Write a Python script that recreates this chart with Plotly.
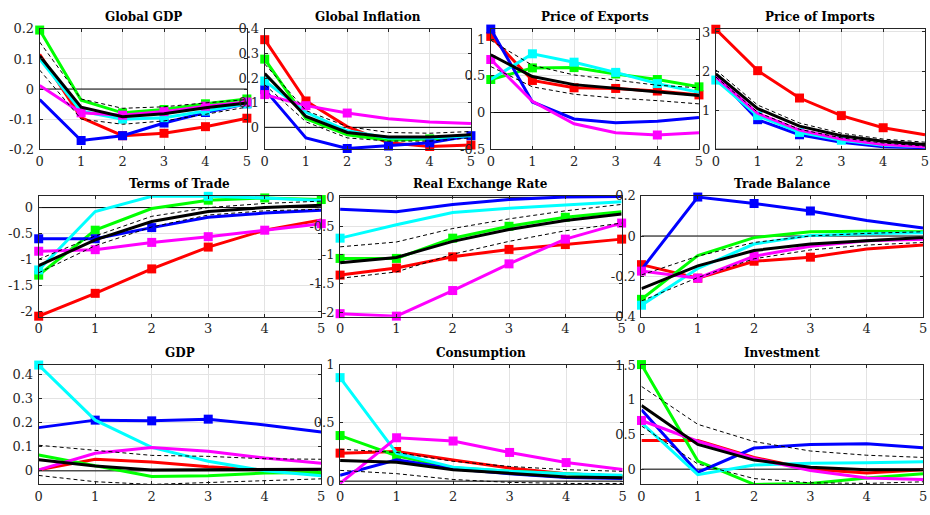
import plotly.graph_objects as go

# Horizon (quarters after the shock)
steps = [0, 1, 2, 3, 4, 5]

# Panel titles
titles = ["Global GDP", "Global Inflation", "Price of Exports", "Price of Imports",
          "Terms of Trade", "Real Exchange Rate", "Trade Balance",
          "GDP", "Consumption", "Investment"]

# Impulse responses: five country responses, the median and its bands
global_gdp = {
    "red":     [0.115, -0.095, -0.155, -0.147, -0.125, -0.097],
    "green":   [0.196, -0.037, -0.079, -0.068, -0.049, -0.033],
    "blue":    [-0.035, -0.171, -0.155, -0.113, -0.078, -0.049],
    "cyan":    [0.100, -0.073, -0.100, -0.095, -0.073, -0.049],
    "magenta": [0.012, -0.079, -0.087, -0.075, -0.057, -0.043],
    "median":  [0.110, -0.060, -0.092, -0.082, -0.062, -0.046],
    "upper":   [0.156, -0.033, -0.064, -0.059, -0.046, -0.035],
    "lower":   [0.063, -0.100, -0.117, -0.106, -0.084, -0.060],
}
global_inflation = {
    "red":     [0.356, 0.107, 0.003, -0.063, -0.078, -0.072],
    "green":   [0.277, 0.035, -0.030, -0.052, -0.047, -0.037],
    "blue":    [0.153, -0.043, -0.086, -0.076, -0.063, -0.034],
    "cyan":    [0.188, 0.061, -0.014, -0.043, -0.043, -0.034],
    "magenta": [0.133, 0.088, 0.058, 0.035, 0.022, 0.016],
    "median":  [0.218, 0.044, -0.021, -0.039, -0.039, -0.030],
    "upper":   [0.257, 0.068, 0.003, -0.021, -0.024, -0.017],
    "lower":   [0.173, 0.022, -0.043, -0.056, -0.056, -0.043],
}
price_exports = {
    "red":     [1.037, 0.437, 0.337, 0.328, 0.293, 0.240],
    "green":   [0.450, 0.608, 0.612, 0.525, 0.450, 0.350],
    "blue":    [1.137, 0.144, -0.087, -0.140, -0.118, -0.066],
    "cyan":    [0.450, 0.800, 0.686, 0.547, 0.394, 0.276],
    "magenta": [0.722, 0.153, -0.153, -0.276, -0.306, -0.276],
    "median":  [0.787, 0.490, 0.380, 0.328, 0.284, 0.232],
    "upper":   [0.984, 0.643, 0.512, 0.437, 0.372, 0.337],
    "lower":   [0.626, 0.350, 0.249, 0.197, 0.162, 0.118],
}
price_imports = {
    "red":     [3.07, 2.01, 1.31, 0.86, 0.55, 0.37],
    "green":   [1.82, 0.90, 0.48, 0.25, 0.12, 0.08],
    "blue":    [1.89, 0.756, 0.37, 0.18, 0.066, 0.04],
    "cyan":    [1.77, 0.86, 0.43, 0.23, 0.10, 0.066],
    "magenta": [1.85, 0.92, 0.49, 0.26, 0.12, 0.066],
    "median":  [1.93, 1.04, 0.59, 0.345, 0.205, 0.123],
    "upper":   [2.03, 1.13, 0.67, 0.41, 0.26, 0.18],
    "lower":   [1.85, 0.945, 0.51, 0.29, 0.16, 0.08],
}
terms_of_trade = {
    "red":     [-2.09, -1.65, -1.18, -0.76, -0.435, -0.236],
    "green":   [-1.30, -0.435, -0.019, 0.143, 0.186, 0.155],
    "blue":    [-0.60, -0.60, -0.385, -0.186, -0.106, -0.05],
    "cyan":    [-1.20, -0.075, 0.217, 0.217, 0.186, 0.137],
    "magenta": [-0.84, -0.81, -0.67, -0.56, -0.435, -0.31],
    "median":  [-1.118, -0.62, -0.267, -0.075, 0.0, 0.043],
    "upper":   [-0.994, -0.547, -0.168, 0.0, 0.08, 0.124],
    "lower":   [-1.255, -0.733, -0.373, -0.143, -0.062, -0.031],
}
real_exchange_rate = {
    "red":     [-1.355, -1.232, -1.036, -0.907, -0.823, -0.728],
    "green":   [-1.064, -1.064, -0.711, -0.504, -0.347, -0.252],
    "blue":    [-0.207, -0.252, -0.123, -0.039, 0.006, 0.017],
    "cyan":    [-0.711, -0.476, -0.263, -0.190, -0.134, -0.078],
    "magenta": [-2.027, -2.070, -1.624, -1.159, -0.728, -0.448],
    "median":  [-1.140, -1.047, -0.767, -0.560, -0.403, -0.291],
    "upper":   [-0.862, -0.778, -0.543, -0.375, -0.235, -0.123],
    "lower":   [-1.411, -1.300, -0.991, -0.767, -0.582, -0.448],
}
trade_balance = {
    "red":     [-0.142, -0.209, -0.125, -0.105, -0.064, -0.045],
    "green":   [-0.314, -0.097, -0.008, 0.021, 0.024, 0.021],
    "blue":    [-0.166, 0.193, 0.161, 0.124, 0.077, 0.040],
    "cyan":    [-0.343, -0.161, -0.040, 0.003, 0.011, 0.016],
    "magenta": [-0.174, -0.209, -0.100, -0.051, -0.024, -0.016],
    "median":  [-0.261, -0.148, -0.072, -0.040, -0.024, -0.008],
    "upper":   [-0.193, -0.100, -0.032, 0.000, 0.013, 0.021],
    "lower":   [-0.322, -0.206, -0.113, -0.069, -0.045, -0.032],
}
gdp = {
    "red":     [0.004, 0.048, 0.037, 0.017, 0.004, -0.012],
    "green":   [0.066, 0.021, -0.023, -0.020, -0.009, -0.007],
    "blue":    [0.179, 0.210, 0.207, 0.214, 0.190, 0.161],
    "cyan":    [0.438, 0.210, 0.097, 0.040, 0.000, -0.020],
    "magenta": [0.004, 0.073, 0.097, 0.081, 0.053, 0.031],
    "median":  [0.046, 0.020, 0.004, 0.004, 0.004, 0.007],
    "upper":   [0.106, 0.084, 0.064, 0.060, 0.050, 0.048],
    "lower":   [-0.019, -0.045, -0.056, -0.049, -0.042, -0.033],
}
consumption = {
    "red":     [0.240, 0.254, 0.182, 0.112, 0.064, 0.042],
    "green":   [0.391, 0.218, 0.115, 0.084, 0.064, 0.042],
    "blue":    [0.050, 0.182, 0.106, 0.064, 0.031, 0.022],
    "cyan":    [0.888, 0.240, 0.120, 0.084, 0.064, 0.050],
    "magenta": [-0.020, 0.372, 0.344, 0.246, 0.159, 0.100],
    "median":  [0.176, 0.162, 0.098, 0.064, 0.036, 0.028],
    "upper":   [0.274, 0.246, 0.170, 0.126, 0.098, 0.084],
    "lower":   [0.092, 0.064, 0.014, -0.011, -0.020, -0.020],
}
investment = {
    "red":     [0.412, 0.412, 0.169, 0.000, -0.056, -0.009],
    "green":   [1.510, 0.117, -0.220, -0.206, -0.127, -0.066],
    "blue":    [0.858, -0.047, 0.305, 0.356, 0.366, 0.309],
    "cyan":    [0.670, -0.080, 0.061, 0.084, 0.094, 0.108],
    "magenta": [0.703, 0.403, 0.155, -0.019, -0.127, -0.150],
    "median":  [0.919, 0.356, 0.131, 0.028, -0.009, -0.009],
    "upper":   [1.195, 0.647, 0.398, 0.262, 0.201, 0.169],
    "lower":   [0.623, 0.075, -0.136, -0.197, -0.206, -0.183],
}

# Horizons flagged as significant for each country response
global_gdp_flags = {"red": [2, 3, 4, 5], "green": [0, 2, 3, 4, 5], "blue": [1, 2, 3, 4, 5],
                    "cyan": [2, 3, 4, 5], "magenta": [1, 2, 3, 4, 5]}
global_inflation_flags = {"red": [0, 1, 4, 5], "green": [0, 4], "blue": [0, 2, 3, 4, 5],
                          "cyan": [0], "magenta": [0, 1, 2]}
price_exports_flags = {"red": [0, 1, 2, 3, 4, 5], "green": [0, 1, 2, 3, 4, 5], "blue": [0],
                       "cyan": [1, 2, 3, 4], "magenta": [0, 4]}
price_imports_flags = {"red": [0, 1, 2, 3, 4], "green": [], "blue": [1, 2],
                       "cyan": [0, 1, 2, 3], "magenta": []}
terms_of_trade_flags = {"red": [0, 1, 2, 3], "green": [0, 1, 3, 4, 5], "blue": [0, 1, 2],
                        "cyan": [0, 3], "magenta": [0, 1, 2, 3, 4, 5]}
real_exchange_rate_flags = {"red": [0, 1, 2, 3, 4, 5], "green": [0, 1, 2, 3, 4], "blue": [],
                            "cyan": [0], "magenta": [0, 1, 2, 3, 4, 5]}
trade_balance_flags = {"red": [0, 1, 2, 3], "green": [0], "blue": [1, 2, 3],
                       "cyan": [0], "magenta": [0, 1, 2]}
gdp_flags = {"red": [], "green": [], "blue": [1, 2, 3], "cyan": [0], "magenta": []}
consumption_flags = {"red": [0, 1], "green": [0, 1], "blue": [], "cyan": [0],
                     "magenta": [1, 2, 3, 4]}
investment_flags = {"red": [], "green": [0], "blue": [], "cyan": [], "magenta": [0]}

panels = [global_gdp, global_inflation, price_exports, price_imports,
          terms_of_trade, real_exchange_rate, trade_balance,
          gdp, consumption, investment]
flags = [global_gdp_flags, global_inflation_flags, price_exports_flags, price_imports_flags,
         terms_of_trade_flags, real_exchange_rate_flags, trade_balance_flags,
         gdp_flags, consumption_flags, investment_flags]

# Y-axis tick values and limits per panel
y_ticks = [
    [-0.2, -0.1, 0, 0.1, 0.2],
    [0, 0.1, 0.2, 0.3, 0.4],
    [-0.5, 0, 0.5, 1],
    [0, 1, 2, 3],
    [-2, -1.5, -1, -0.5, 0],
    [-2, -1.5, -1, -0.5, 0],
    [-0.4, -0.2, 0, 0.2],
    [0, 0.1, 0.2, 0.3, 0.4],
    [0, 0.5, 1],
    [0, 0.5, 1, 1.5],
]
y_limits = [
    [-0.2, 0.2], [-0.089, 0.4], [-0.5, 1.14], [0, 3.08],
    [-2.1, 0.23], [-2.08, 0.03], [-0.4, 0.2],
    [-0.056, 0.44], [-0.028, 1.0], [-0.22, 1.51],
]

# Axes placement in pixels of the 930x515 canvas: (left, right, top, bottom)
W, H = 930, 515
boxes = [
    (36, 245, 22.5, 146.5), (263, 471, 22.5, 146.5), (491, 701, 22.5, 146.5), (718, 929, 22.5, 146.5),
    (35, 320, 194.3, 319), (339, 623, 194.3, 319), (643, 927, 194.3, 319),
    (35, 320, 368.3, 491.7), (339, 624, 368.3, 491.7), (643, 927, 368.3, 491.7),
]

colors = {"red": "#ff0000", "green": "#00ff00", "blue": "#0000ff",
          "cyan": "#00ffff", "magenta": "#ff00ff"}

FONT = "DejaVu Serif"
TICK_SIZE = 13
TITLE_SIZE = 12
AXIS_COLOR = "#262626"
GRID_COLOR = "#e3e3e3"

fig = go.Figure()
layout = dict(
    width=W, height=H,
    margin=dict(l=0, r=0, t=0, b=0),
    paper_bgcolor="white", plot_bgcolor="rgba(0,0,0,0)",
    showlegend=False,
    font=dict(family=FONT, size=TICK_SIZE, color=AXIS_COLOR),
    annotations=[],
)

for i, (data, flg) in enumerate(zip(panels, flags)):
    n = "" if i == 0 else str(i + 1)
    xa, ya = "x" + n, "y" + n
    left, right, top, bottom = boxes[i]

    # zero reference line
    fig.add_trace(go.Scatter(x=[steps[0], steps[-1]], y=[0, 0], mode="lines",
                             line=dict(color="black", width=1),
                             xaxis=xa, yaxis=ya, hoverinfo="skip", cliponaxis=True))

    for key in ["red", "green", "blue", "cyan", "magenta"]:
        vals = data[key]
        fig.add_trace(go.Scatter(x=steps, y=vals, mode="lines",
                                 line=dict(color=colors[key], width=3),
                                 xaxis=xa, yaxis=ya, cliponaxis=False, name=key))
        idx = flg[key]
        if idx:
            fig.add_trace(go.Scatter(x=[steps[j] for j in idx], y=[vals[j] for j in idx],
                                     mode="markers",
                                     marker=dict(symbol="square", size=9, color=colors[key],
                                                 line=dict(width=0)),
                                     xaxis=xa, yaxis=ya, cliponaxis=False, name=key))

    fig.add_trace(go.Scatter(x=steps, y=data["median"], mode="lines",
                             line=dict(color="black", width=3),
                             xaxis=xa, yaxis=ya, cliponaxis=False, name="median"))
    for band in ["upper", "lower"]:
        fig.add_trace(go.Scatter(x=steps, y=data[band], mode="lines",
                                 line=dict(color="black", width=1, dash="4px,3px"),
                                 xaxis=xa, yaxis=ya, cliponaxis=False, name=band))

    axis_common = dict(
        showline=True, linecolor=AXIS_COLOR, linewidth=1, mirror="ticks",
        ticks="inside", ticklen=3, tickcolor=AXIS_COLOR,
        showgrid=True, gridcolor=GRID_COLOR, gridwidth=1,
        zeroline=False, tickfont=dict(family=FONT, size=TICK_SIZE, color=AXIS_COLOR),
    )
    layout["xaxis" + n] = dict(
        axis_common, domain=[left / W, right / W], anchor=ya,
        range=[steps[0], steps[-1]], tickvals=steps, ticktext=[str(s) for s in steps],
    )
    layout["yaxis" + n] = dict(
        axis_common, domain=[1 - bottom / H, 1 - top / H], anchor=xa,
        range=y_limits[i], tickvals=y_ticks[i], ticktext=[f"{v:g}" for v in y_ticks[i]],
        ticklabelstandoff=2,
    )
    layout["annotations"].append(dict(
        text="<b>" + titles[i] + "</b>", xref="paper", yref="paper",
        x=(left + right) / 2 / W, y=1 - (top - 3) / H,
        xanchor="center", yanchor="bottom", showarrow=False,
        font=dict(family=FONT, size=TITLE_SIZE, color="black"),
    ))

fig.update_layout(**layout)
fig.write_html("out.html")
